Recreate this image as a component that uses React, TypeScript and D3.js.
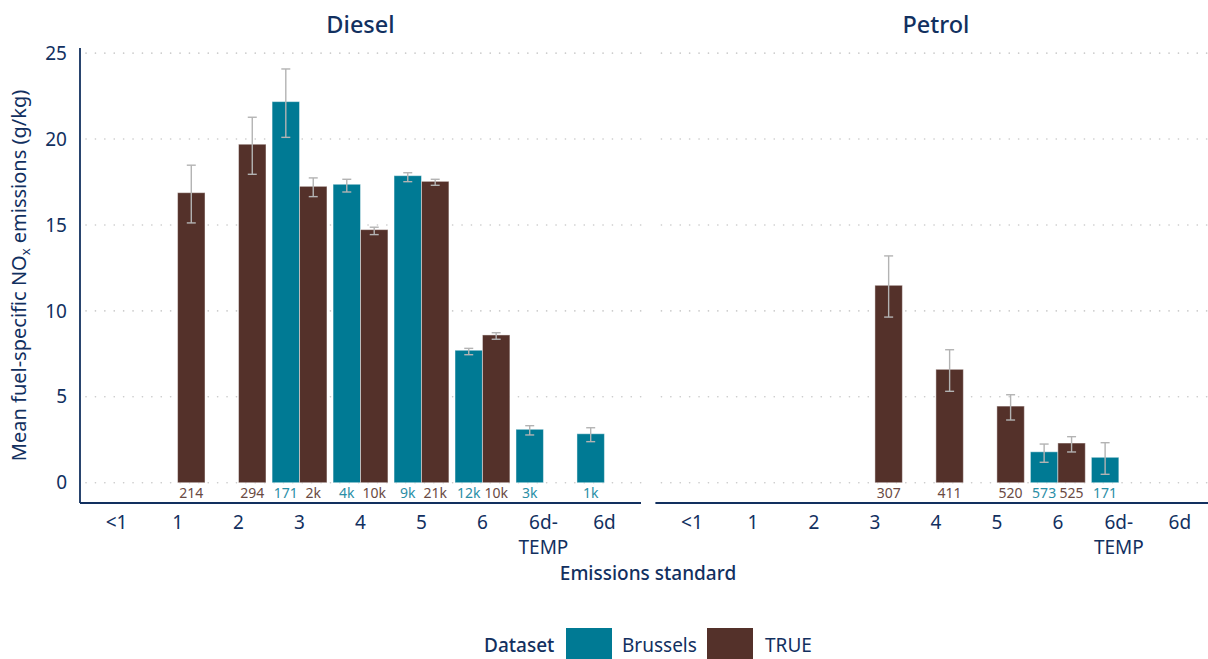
import React from "react";
import * as d3 from "d3";

const categories = ["<1", "1", "2", "3", "4", "5", "6", "6d-TEMP", "6d"];
const datasets = ["Brussels", "TRUE"];
const panels = ["Diesel", "Petrol"];
const yTicks = [0, 5, 10, 15, 20, 25];

const dieselBrusselsMean = [null, null, null, 22.18, 17.37, 17.87, 7.71, 3.11, 2.85];
const dieselBrusselsLow = [null, null, null, 20.1, 16.92, 17.52, 7.45, 2.78, 2.39];
const dieselBrusselsHigh = [null, null, null, 24.08, 17.66, 18.04, 7.82, 3.32, 3.2];
const dieselBrusselsN = ["", "", "", "171", "4k", "9k", "12k", "3k", "1k"];

const dieselTrueMean = [null, 16.88, 19.7, 17.25, 14.73, 17.54, 8.6, null, null];
const dieselTrueLow = [null, 15.12, 17.95, 16.65, 14.44, 17.31, 8.35, null, null];
const dieselTrueHigh = [null, 18.48, 21.27, 17.74, 14.87, 17.66, 8.73, null, null];
const dieselTrueN = ["", "214", "294", "2k", "10k", "21k", "10k", "", ""];

const petrolBrusselsMean = [null, null, null, null, null, null, 1.8, 1.48, null];
const petrolBrusselsLow = [null, null, null, null, null, null, 1.19, 0.49, null];
const petrolBrusselsHigh = [null, null, null, null, null, null, 2.25, 2.33, null];
const petrolBrusselsN = ["", "", "", "", "", "", "573", "171", ""];

const petrolTrueMean = [null, null, null, 11.49, 6.6, 4.46, 2.31, null, null];
const petrolTrueLow = [null, null, null, 9.64, 5.32, 3.65, 1.79, null, null];
const petrolTrueHigh = [null, null, null, 13.2, 7.74, 5.12, 2.68, null, null];
const petrolTrueN = ["", "", "", "307", "411", "520", "525", "", ""];

const series = {
  Diesel: {
    Brussels: { mean: dieselBrusselsMean, low: dieselBrusselsLow, high: dieselBrusselsHigh, n: dieselBrusselsN },
    TRUE: { mean: dieselTrueMean, low: dieselTrueLow, high: dieselTrueHigh, n: dieselTrueN },
  },
  Petrol: {
    Brussels: { mean: petrolBrusselsMean, low: petrolBrusselsLow, high: petrolBrusselsHigh, n: petrolBrusselsN },
    TRUE: { mean: petrolTrueMean, low: petrolTrueLow, high: petrolTrueHigh, n: petrolTrueN },
  },
};

const FONT = "'Noto Sans', 'Open Sans', sans-serif";
const NAVY = "#12305f";
const fillColor = d3.scaleOrdinal<string, string>().domain(datasets).range(["#007a94", "#54312a"]);
const labelColor = d3.scaleOrdinal<string, string>().domain(datasets).range(["#2a8ea6", "#6a4a43"]);

const W = 1208;
const H = 659;
const panelRanges: Record<string, [number, number]> = {
  Diesel: [80, 641],
  Petrol: [655.4, 1216.4],
};
const yTop = 48;
const yBottom = 503;

export default function App() {
  const y = d3.scaleLinear().domain([-1.18, 25.3]).range([yBottom, yTop]);

  return (
    <svg width={W} height={H} style={{ position: "absolute", left: 0, top: 0 }} fontFamily={FONT}>
      <rect x={0} y={0} width={W} height={H} fill="#ffffff" />
      {panels.map((p) => {
        const [x0, x1] = panelRanges[p];
        const x = d3.scaleBand().domain(categories).range([x0, x1]).paddingInner(0.1).paddingOuter(0.15);
        const xd = d3.scaleBand().domain(datasets).range([0, x.bandwidth()]);
        return (
          <g key={p}>
            {yTicks.map((t) => (
              <line
                key={t}
                x1={x0 + 6}
                x2={x1}
                y1={y(t)}
                y2={y(t)}
                stroke="#c9c9c9"
                strokeWidth={1.6}
                strokeDasharray="0.1 9.3"
                strokeLinecap="round"
              />
            ))}
            <text x={(x0 + x1) / 2} y={33} textAnchor="middle" fontSize={23.5} fontWeight={500} fill={NAVY}>
              {p}
            </text>
            {datasets.map((ds) => {
              const s = series[p][ds];
              return categories.map((c, i) => {
                const v = s.mean[i];
                if (v == null) return null;
                const bx = (x(c) as number) + (xd(ds) as number);
                const bw = xd.bandwidth();
                const cx = bx + bw / 2;
                return (
                  <g key={ds + c}>
                    <rect
                      x={bx}
                      y={y(v)}
                      width={bw}
                      height={y(0) - y(v)}
                      fill={fillColor(ds)}
                      stroke="#ffffff"
                      strokeOpacity={0.45}
                      strokeWidth={1}
                    />
                    <line x1={cx} x2={cx} y1={y(s.low[i])} y2={y(s.high[i])} stroke="#b3b3b3" strokeWidth={1.4} />
                    <line x1={cx - 4.5} x2={cx + 4.5} y1={y(s.low[i])} y2={y(s.low[i])} stroke="#b3b3b3" strokeWidth={1.4} />
                    <line x1={cx - 4.5} x2={cx + 4.5} y1={y(s.high[i])} y2={y(s.high[i])} stroke="#b3b3b3" strokeWidth={1.4} />
                    <text x={cx} y={y(-0.6)} dy="0.36em" textAnchor="middle" fontSize={14} fill={labelColor(ds)}>
                      {s.n[i]}
                    </text>
                  </g>
                );
              });
            })}
            <line x1={x0} x2={x1} y1={yBottom} y2={yBottom} stroke={NAVY} strokeWidth={1.8} />
            {categories.map((c) => {
              const cx = (x(c) as number) + x.bandwidth() / 2;
              const parts = c === "6d-TEMP" ? ["6d-", "TEMP"] : [c];
              return (
                <g key={c}>
                  {parts.map((pt, k) => (
                    <text key={k} x={cx} y={529 + k * 25} textAnchor="middle" fontSize={19} fill={NAVY}>
                      {pt}
                    </text>
                  ))}
                </g>
              );
            })}
          </g>
        );
      })}
      <line x1={80} x2={80} y1={yTop} y2={yBottom} stroke={NAVY} strokeWidth={1.8} />
      {yTicks.map((t) => (
        <text key={t} x={67} y={y(t)} dy="0.35em" textAnchor="end" fontSize={19} fill={NAVY}>
          {t}
        </text>
      ))}
      <text
        transform={`translate(26, ${(yTop + yBottom) / 2}) rotate(-90)`}
        textAnchor="middle"
        fontSize={20}
        fill={NAVY}
      >
        Mean fuel-specific NO
        <tspan fontSize={13} dy={4}>x</tspan>
        <tspan dy={-4}> emissions (g/kg)</tspan>
      </text>
      <text x={648} y={580} textAnchor="middle" fontSize={19} fontWeight={500} fill={NAVY}>
        Emissions standard
      </text>
      <g>
        <text x={484} y={652} fontSize={19} fontWeight={500} fill={NAVY}>
          Dataset
        </text>
        <rect x={566} y={628} width={46} height={40} fill={fillColor("Brussels")} />
        <text x={622} y={652} fontSize={19} fill={NAVY}>
          Brussels
        </text>
        <rect x={707} y={628} width={46} height={40} fill={fillColor("TRUE")} />
        <text x={765} y={652} fontSize={19} fill={NAVY}>
          TRUE
        </text>
      </g>
    </svg>
  );
}
